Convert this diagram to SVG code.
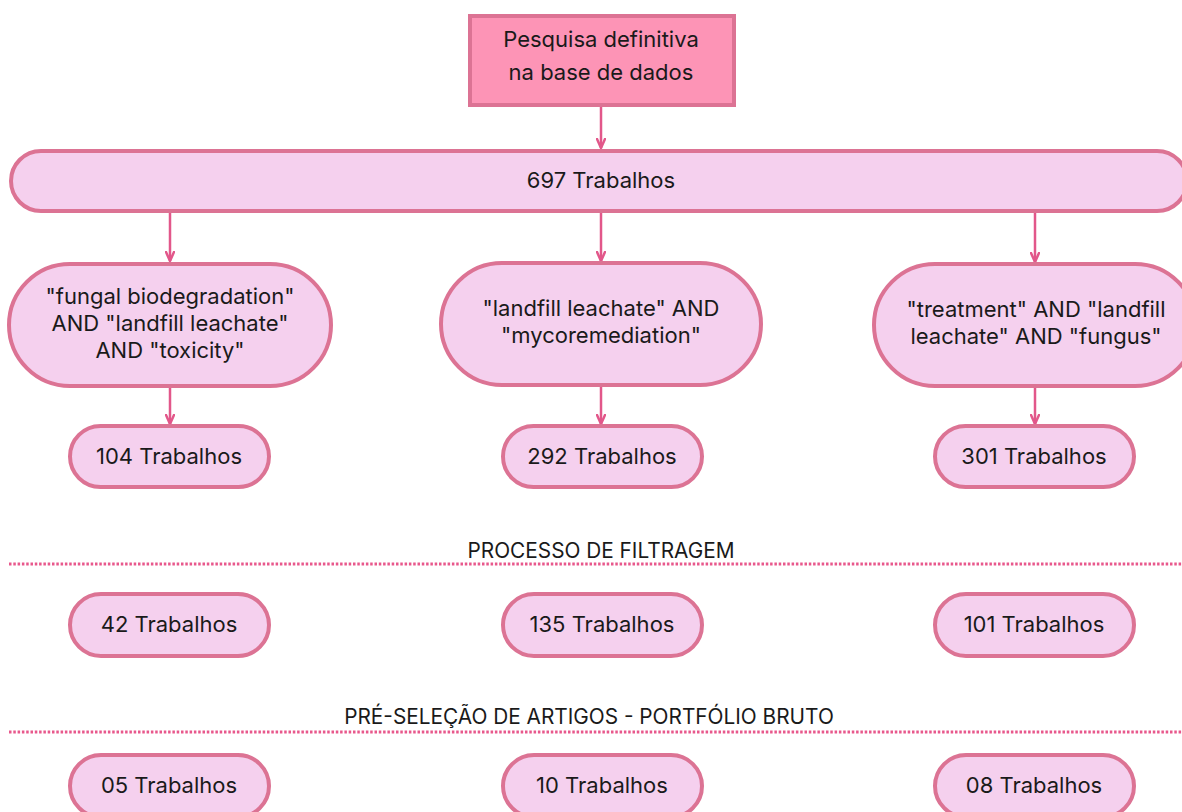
<svg xmlns="http://www.w3.org/2000/svg" width="1182" height="812" viewBox="0 0 1182 812">
<style>
.nd{fill:#f5d0ee;stroke:#dc7394;stroke-width:4}
.top{fill:#fd94b6;stroke:#dc7394;stroke-width:4}
.t{font-family:Inter,"Noto Sans",sans-serif;font-size:22px;fill:#1a1a1a;text-anchor:middle}
.lb{font-size:20.8px}
.c{stroke:#e2578a;stroke-width:2.5;fill:none}
.dot{stroke:#e8588c;stroke-width:3;stroke-dasharray:2.5 1.8;fill:none}
</style>
<defs>
<marker id="ah" viewBox="0 0 12 10" refX="10" refY="5" markerWidth="12" markerHeight="10" markerUnits="userSpaceOnUse" orient="auto">
<path d="M1,1 L10,5 L1,9" fill="none" stroke="#e2578a" stroke-width="2.5" stroke-linecap="round" stroke-linejoin="round"/>
</marker>
</defs>
<rect width="1182" height="812" fill="#fff"/>
<g id="connectors">
<line class="c" x1="601" y1="107" x2="601" y2="148" marker-end="url(#ah)"/>
<line class="c" x1="170" y1="212" x2="170" y2="261" marker-end="url(#ah)"/>
<line class="c" x1="601" y1="212" x2="601" y2="261" marker-end="url(#ah)"/>
<line class="c" x1="1035" y1="212" x2="1035" y2="262" marker-end="url(#ah)"/>
<line class="c" x1="170" y1="388" x2="170" y2="424" marker-end="url(#ah)"/>
<line class="c" x1="601" y1="386" x2="601" y2="424" marker-end="url(#ah)"/>
<line class="c" x1="1035" y1="388" x2="1035" y2="424" marker-end="url(#ah)"/>
</g>
<g id="separators">
<line class="dot" x1="9" y1="564" x2="1182" y2="564"/>
<text class="t lb" x="601" y="558">PROCESSO DE FILTRAGEM</text>
<line class="dot" x1="9" y1="732" x2="1182" y2="732"/>
<text class="t lb" x="589" y="724">PRÉ-SELEÇÃO DE ARTIGOS - PORTFÓLIO BRUTO</text>
</g>
<g id="n-top">
<rect class="top" x="470" y="16" width="264" height="89"/>
<text class="t" x="601" y="47">Pesquisa definitiva</text>
<text class="t" x="601" y="80">na base de dados</text>
</g>
<g id="n-697">
<rect class="nd" x="11" y="151" width="1176" height="60" rx="30"/>
<text class="t" x="601" y="188">697 Trabalhos</text>
</g>
<g id="n-q1">
<rect class="nd" x="9" y="264" width="322" height="122" rx="61"/>
<text class="t" x="170" y="304">"fungal biodegradation"</text>
<text class="t" x="170" y="331">AND "landfill leachate"</text>
<text class="t" x="170" y="358">AND "toxicity"</text>
</g>
<g id="n-q2">
<rect class="nd" x="441" y="263" width="320" height="122" rx="61"/>
<text class="t" x="601" y="316">"landfill leachate" AND</text>
<text class="t" x="601" y="343">"mycoremediation"</text>
</g>
<g id="n-q3">
<rect class="nd" x="874" y="264" width="322" height="122" rx="61"/>
<text class="t" x="1036" y="317">"treatment" AND "landfill</text>
<text class="t" x="1036" y="344">leachate" AND "fungus"</text>
</g>
<g id="n-104"><rect class="nd" x="70" y="426" width="199" height="61" rx="30.5"/><text class="t" x="169" y="464">104 Trabalhos</text></g>
<g id="n-292"><rect class="nd" x="503" y="426" width="199" height="61" rx="30.5"/><text class="t" x="602" y="464">292 Trabalhos</text></g>
<g id="n-301"><rect class="nd" x="935" y="426" width="199" height="61" rx="30.5"/><text class="t" x="1034" y="464">301 Trabalhos</text></g>
<g id="n-42"><rect class="nd" x="70" y="594" width="199" height="62" rx="31"/><text class="t" x="169" y="632">42 Trabalhos</text></g>
<g id="n-135"><rect class="nd" x="503" y="594" width="199" height="62" rx="31"/><text class="t" x="602" y="632">135 Trabalhos</text></g>
<g id="n-101"><rect class="nd" x="935" y="594" width="199" height="62" rx="31"/><text class="t" x="1034" y="632">101 Trabalhos</text></g>
<g id="n-05"><rect class="nd" x="70" y="755" width="199" height="62" rx="31"/><text class="t" x="169" y="793">05 Trabalhos</text></g>
<g id="n-10"><rect class="nd" x="503" y="755" width="199" height="62" rx="31"/><text class="t" x="602" y="793">10 Trabalhos</text></g>
<g id="n-08"><rect class="nd" x="935" y="755" width="199" height="62" rx="31"/><text class="t" x="1034" y="793">08 Trabalhos</text></g>
</svg>
